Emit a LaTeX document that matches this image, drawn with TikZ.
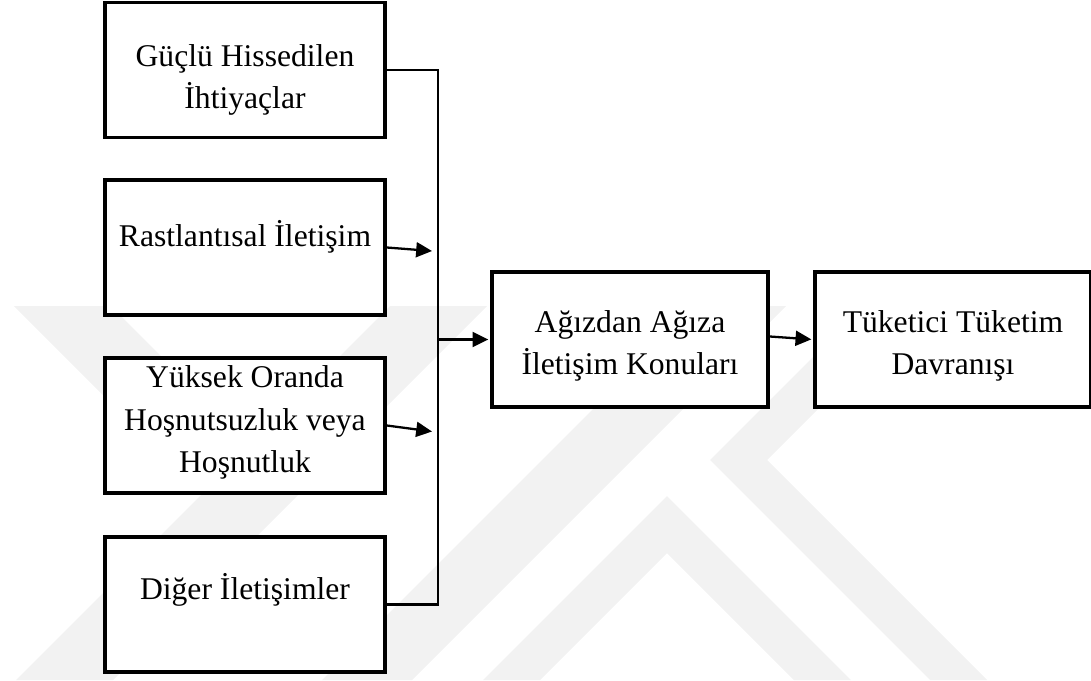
\documentclass[tikz,border=0pt]{standalone}
\usepackage{fontspec}
\setmainfont{Liberation Serif}
\usetikzlibrary{arrows.meta}

\begin{document}
\begin{tikzpicture}[x=0.02cm,y=-0.02cm,>={Triangle[length=9pt,width=8.5pt]},
    kutu/.style={draw,line width=2.2pt,fill=white,minimum width=5.6cm,minimum height=2.7cm},
    yazi/.style={align=center,font=\fontsize{18}{24}\selectfont,inner sep=0pt},
    bag/.style={line width=1.3pt},
    filigran/.style={fill=black!5}]
    \useasboundingbox (0,0) rectangle (1091,680);
    % soluk logo (arka plan)
    \begin{scope}
        \clip (0,306) rectangle (1091,680);
        \fill[filigran] (14,306) -- (111,306) -- (250.5,445.5) -- (202,494) -- cycle;
        \fill[filigran] (390,306) -- (487,306) -- (113,680) -- (16,680) -- cycle;
        \fill[filigran] (696,306) -- (786,306) -- (412,680) -- (322,680) -- cycle;
        \fill[filigran] (667,496) -- (851,680) -- (794,680) -- (667,553) -- (540,680) -- (483,680) -- cycle;
        \fill[filigran] (864,306) -- (921,306) -- (767,460) -- (987,680) -- (930,680) -- (710,460) -- cycle;
    \end{scope}
    % sol sutun
    \foreach \ad/\y/\dy/\metin in {g1/70/-10/{Güçlü Hissedilen\\İhtiyaçlar}, g2/247.5/11/{Rastlantısal İletişim}, g3/425.5/3/{Yüksek Oranda\\Hoşnutsuzluk veya\\Hoşnutluk}, g4/604.5/15/{Diğer İletişimler}} {
        \node[kutu] (\ad) at (245,\y) {};
        \node[yazi] (\ad-yazi) at ([yshift=\dy*0.02cm]\ad.center) {\metin};
    }
    \node[kutu,minimum width=5.52cm] (konu) at (630,339.5) {};
    \node[yazi] (konu-yazi) at ([yshift=-0.12cm]konu.center) {Ağızdan Ağıza\\İletişim Konuları};
    \node[kutu,minimum width=5.52cm] (davranis) at (953,339.5) {};
    \node[yazi] (davranis-yazi) at ([yshift=-0.12cm]davranis.center) {Tüketici Tüketim\\Davranışı};
    % baglantilar
    \coordinate (alt) at (438,604.5);
    \coordinate (orta) at (438,339.5);
    \coordinate (u2) at (432,251);
    \coordinate (u3) at (432,431.5);
    \draw[bag] (g1.east) -| (alt) -- (g4.east);
    \draw[bag,->] (g2.east) -- (u2);
    \draw[bag,->] (g3.east) -- (u3);
    \draw[bag,->,shorten >=1pt] (orta) -- (konu.west);
    \draw[bag,->,shorten >=1pt] ([yshift=0.06cm]konu.east) -- (davranis.west);
\end{tikzpicture}
\end{document}
